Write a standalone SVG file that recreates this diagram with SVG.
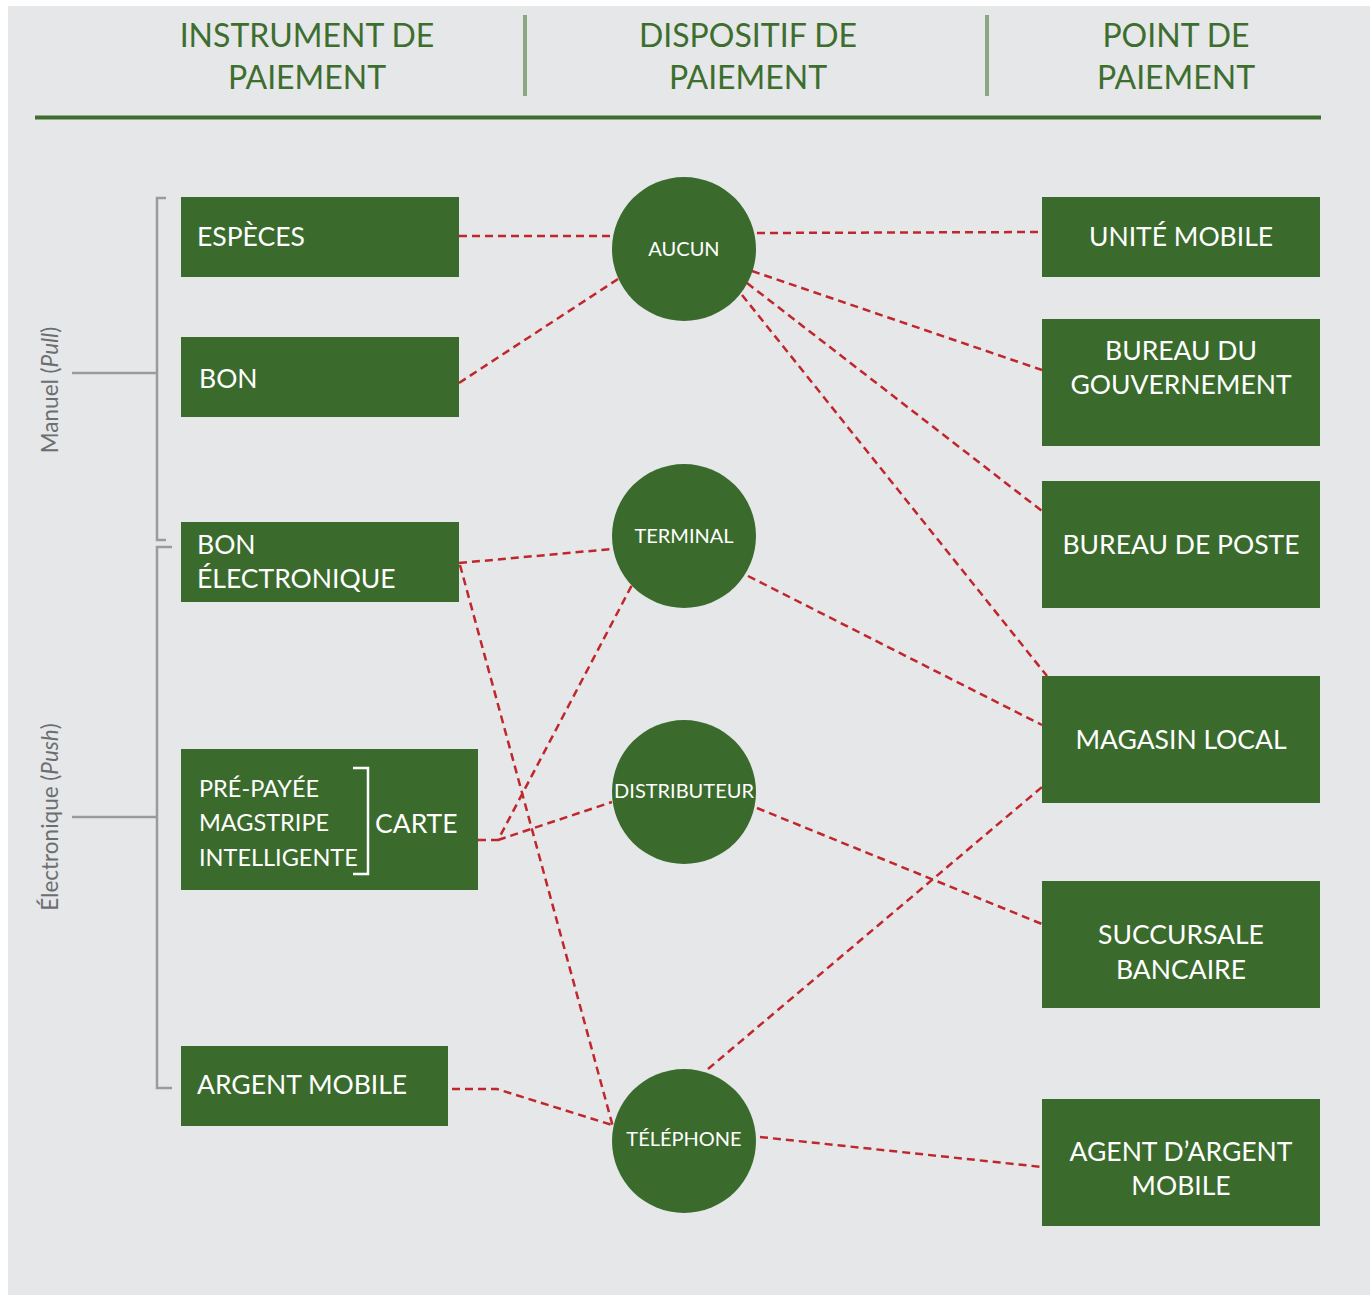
<svg xmlns="http://www.w3.org/2000/svg" width="1370" height="1296" viewBox="0 0 1370 1296">
<defs>
<style>
.hdr{font-family:Lato,"Noto Sans","Liberation Sans",sans-serif;font-size:32px;fill:#3d6e2e;text-anchor:middle}
.box{fill:#3a6b2c}
.t{font-family:Lato,"Noto Sans","Liberation Sans",sans-serif;font-size:26.5px;fill:#ffffff}
.tc{font-family:Lato,"Noto Sans","Liberation Sans",sans-serif;font-size:26.5px;fill:#ffffff;text-anchor:middle}
.ts{font-family:Lato,"Noto Sans","Liberation Sans",sans-serif;font-size:23.5px;fill:#ffffff}
.tn{font-family:Lato,"Noto Sans","Liberation Sans",sans-serif;font-size:20px;fill:#ffffff;text-anchor:middle}
.side{font-family:Lato,"Noto Sans","Liberation Sans",sans-serif;font-size:22.5px;fill:#6d6e71;text-anchor:middle}
.br{fill:none;stroke:#9a9b9d;stroke-width:2.5}
.c{fill:none;stroke:#c0272d;stroke-width:2.5;stroke-dasharray:8 5}
</style>
</defs>
<rect x="0" y="0" width="1370" height="1296" fill="#ffffff"/>
<rect x="8" y="6" width="1362" height="1289" fill="#e6e7e8"/>

<g id="header">
<text class="hdr" x="307" y="47">INSTRUMENT DE</text>
<text class="hdr" x="307" y="89">PAIEMENT</text>
<text class="hdr" x="748" y="47">DISPOSITIF DE</text>
<text class="hdr" x="748" y="89">PAIEMENT</text>
<text class="hdr" x="1176" y="47">POINT DE</text>
<text class="hdr" x="1176" y="89">PAIEMENT</text>
<line x1="525" y1="15" x2="525" y2="96" stroke="#8aa880" stroke-width="4"/>
<line x1="987" y1="15" x2="987" y2="96" stroke="#8aa880" stroke-width="4"/>
<line x1="35" y1="117.5" x2="1321" y2="117.5" stroke="#3d6e2e" stroke-width="4"/>
</g>

<g id="group-manuel">
<path class="br" d="M166,198 H157 V540 H166"/>
<line class="br" x1="72" y1="373" x2="157" y2="373"/>
<text class="side" transform="translate(58,390) rotate(-90)">Manuel (<tspan font-style="italic">Pull</tspan>)</text>
</g>
<g id="group-electronique">
<path class="br" d="M172,547 H157 V1088 H172"/>
<line class="br" x1="72" y1="817" x2="157" y2="817"/>
<text class="side" transform="translate(58,817) rotate(-90)">Électronique (<tspan font-style="italic">Push</tspan>)</text>
</g>

<g id="connectors">
<path class="c" d="M459,236 L613,236"/>
<path class="c" d="M459,383 L618,279"/>
<path class="c" d="M757,233 L1042,232"/>
<path class="c" d="M752,271 L1042,370"/>
<path class="c" d="M747,283 L1042,511"/>
<path class="c" d="M742,295 L1047,676"/>
<path class="c" d="M459,563 L612,549"/>
<path class="c" d="M460,565 L613,1127"/>
<path class="c" d="M478,840 L498,840 L632,585"/>
<path class="c" d="M498,840 L612,802"/>
<path class="c" d="M748,576 L1042,725"/>
<path class="c" d="M757,808 L1042,924"/>
<path class="c" d="M708,1069 L1042,787"/>
<path class="c" d="M452,1089 L497,1089 L612,1125"/>
<path class="c" d="M760,1137 L1042,1167"/>
</g>

<g id="n-especes">
<rect class="box" x="181" y="197" width="278" height="80"/>
<text class="t" x="197" y="246">ESPÈCES</text>
</g>
<g id="n-bon">
<rect class="box" x="181" y="337" width="278" height="80"/>
<text class="t" x="199" y="388">BON</text>
</g>
<g id="n-bon-electronique">
<rect class="box" x="181" y="522" width="278" height="80"/>
<text class="t" x="197" y="554">BON</text>
<text class="t" x="197" y="588">ÉLECTRONIQUE</text>
</g>
<g id="n-carte">
<rect class="box" x="181" y="749" width="297" height="141"/>
<text class="ts" x="199" y="797">PRÉ-PAYÉE</text>
<text class="ts" x="199" y="831">MAGSTRIPE</text>
<text class="ts" x="199" y="866">INTELLIGENTE</text>
<path d="M353,768 H368 V874 H353" fill="none" stroke="#ffffff" stroke-width="2.5"/>
<text class="t" x="375" y="833">CARTE</text>
</g>
<g id="n-argent-mobile">
<rect class="box" x="181" y="1046" width="267" height="80"/>
<text class="t" x="197" y="1094">ARGENT MOBILE</text>
</g>

<g id="n-aucun">
<circle class="box" cx="684" cy="249" r="72"/>
<text class="tn" x="684" y="256">AUCUN</text>
</g>
<g id="n-terminal">
<circle class="box" cx="684" cy="536" r="72"/>
<text class="tn" x="684" y="543">TERMINAL</text>
</g>
<g id="n-distributeur">
<circle class="box" cx="684" cy="792" r="72"/>
<text class="tn" x="684" y="798">DISTRIBUTEUR</text>
</g>
<g id="n-telephone">
<circle class="box" cx="684" cy="1141" r="72"/>
<text class="tn" x="684" y="1146">TÉLÉPHONE</text>
</g>

<g id="n-unite-mobile">
<rect class="box" x="1042" y="197" width="278" height="80"/>
<text class="tc" x="1181" y="246">UNITÉ MOBILE</text>
</g>
<g id="n-bureau-gouv">
<rect class="box" x="1042" y="319" width="278" height="127"/>
<text class="tc" x="1181" y="360">BUREAU DU</text>
<text class="tc" x="1181" y="394">GOUVERNEMENT</text>
</g>
<g id="n-bureau-poste">
<rect class="box" x="1042" y="481" width="278" height="127"/>
<text class="tc" x="1181" y="554">BUREAU DE POSTE</text>
</g>
<g id="n-magasin">
<rect class="box" x="1042" y="676" width="278" height="127"/>
<text class="tc" x="1181" y="749">MAGASIN LOCAL</text>
</g>
<g id="n-succursale">
<rect class="box" x="1042" y="881" width="278" height="127"/>
<text class="tc" x="1181" y="944">SUCCURSALE</text>
<text class="tc" x="1181" y="979">BANCAIRE</text>
</g>
<g id="n-agent">
<rect class="box" x="1042" y="1099" width="278" height="127"/>
<text class="tc" x="1181" y="1161">AGENT D’ARGENT</text>
<text class="tc" x="1181" y="1195">MOBILE</text>
</g>
</svg>
